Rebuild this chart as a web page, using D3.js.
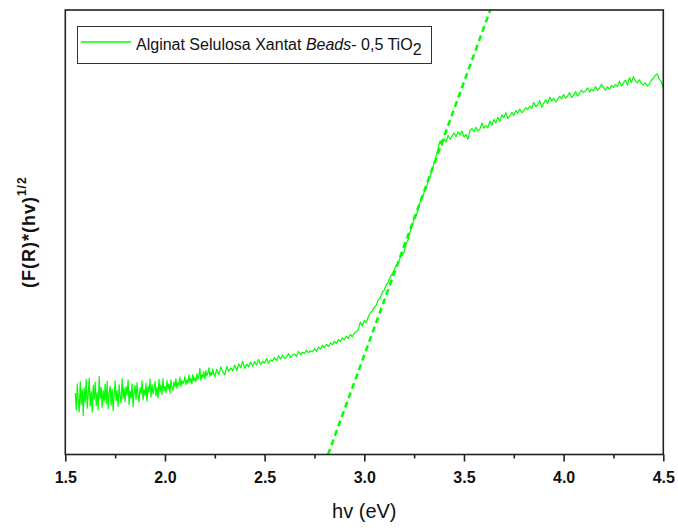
<!DOCTYPE html>
<html>
<head>
<meta charset="utf-8">
<script src="https://cdn.jsdelivr.net/npm/d3@7"></script>
<style>
  html, body { margin: 0; padding: 0; background: #fff; }
  svg { display: block; font-family: "Liberation Sans", Arial, sans-serif; }
</style>
</head>
<body>
<svg id="chart" width="678" height="528"></svg>
<script>
// ---- data ----
// low-energy part, sampled every 0.005 eV
const hvLowStart = 1.55;
const hvLowStep = 0.005;
const kmLow = [
  13.8, 10.0, 15.9, 12.2, 9.6, 16.4, 11.3, 14.5, 8.8, 15.0,
  11.8, 16.9, 10.4, 13.6, 17.2, 10.9, 14.1, 9.5, 15.6, 12.5,
  16.3, 11.0, 13.9, 10.1, 17.6, 12.7, 15.1, 10.6, 14.4, 12.0,
  15.8, 11.4, 16.5, 10.3, 13.8, 15.4, 11.1, 14.7, 9.9, 13.2,
  16.6, 12.1, 14.3, 10.8, 15.7, 13.0, 11.6, 17.1, 12.6, 14.9,
  11.9, 15.3, 13.4, 16.8, 11.2, 14.2, 12.8, 15.9, 10.7, 14.0,
  15.5, 12.4, 16.2, 13.1, 11.8, 15.0, 13.7, 16.6, 12.3, 14.6,
  13.3, 16.0, 12.0, 15.2, 14.1, 17.0, 12.9, 15.7, 13.6, 14.8,
  16.4, 13.2, 15.1, 12.7, 16.9, 14.0, 15.6, 13.5, 17.1, 14.3,
  15.3, 13.9, 16.6, 14.7, 15.9, 13.8, 16.8, 15.0, 14.4, 16.3,
  15.2, 17.0, 14.9, 16.1, 15.6, 17.4, 15.3, 16.7, 15.9, 16.4,
  17.5, 15.7, 16.8, 16.0, 17.9, 16.2, 17.1, 15.9, 18.0, 16.6,
  17.2, 16.4, 18.2, 16.9, 17.6, 19.4, 16.8, 17.9, 17.3, 18.6,
  17.0, 18.8, 17.7, 18.3, 19.5, 17.6, 18.5, 17.9, 19.2, 18.1
];
// rest of the spectrum, sampled every 0.01 eV
const hvHighStart = 2.25;
const hvHighStep = 0.01;
const kmHigh = [
  17.5, 19.2, 18.0, 19.7, 18.6, 17.9, 19.8, 18.7, 19.5, 18.8,
  20.1, 18.9, 20.4, 19.5, 21.0, 19.3, 20.3, 19.8, 20.8, 19.9,
  20.9, 20.1, 21.4, 20.2, 21.0, 20.6, 21.6, 20.5, 21.3, 21.0,
  21.8, 21.1, 22.2, 21.5, 22.4, 21.6, 22.0, 22.7, 21.8, 22.4,
  22.6, 22.1, 23.2, 22.5, 23.0, 22.7, 23.5, 22.9, 23.3, 23.1,
  23.8, 23.2, 24.2, 23.7, 24.6, 24.0, 24.8, 24.3, 25.1, 24.7,
  25.5, 25.0, 25.9, 25.4, 26.2, 25.8, 26.6, 26.1, 27.0, 26.5,
  27.3, 27.6, 28.2, 29.8, 28.9, 30.2, 29.6, 31.0, 31.8, 32.3,
  33.1, 33.6, 34.8, 35.2, 36.5, 37.0, 38.2, 38.7, 40.0, 40.6,
  41.5, 42.6, 43.0, 44.3, 44.8, 45.6, 47.4, 48.3, 50.2, 51.5,
  52.9, 53.6, 55.2, 56.8, 57.6, 59.0, 59.8, 61.5, 62.4, 64.0,
  65.5, 67.2, 68.8, 70.6, 69.5, 71.0, 70.3, 71.8, 70.9, 71.6,
  72.3, 71.5, 72.6, 71.9, 72.8, 71.4, 72.0, 70.9, 72.9, 73.3,
  72.6, 73.6, 72.8, 73.2, 74.6, 73.4, 74.0, 73.5, 75.0, 74.1,
  75.4, 74.6, 75.9, 74.9, 76.4, 75.8, 76.9, 75.6, 76.2, 77.0,
  76.3, 77.4, 76.8, 77.7, 76.9, 77.3, 78.0, 77.6, 78.4, 77.8,
  79.2, 78.3, 78.7, 79.6, 78.1, 79.0, 79.8, 78.9, 80.4, 79.5,
  80.1, 79.3, 79.9, 80.6, 80.0, 81.0, 80.2, 80.7, 81.4, 80.3,
  80.8, 81.6, 80.6, 81.3, 82.0, 81.4, 81.8, 82.5, 81.6, 82.2,
  81.8, 82.8, 81.9, 82.4, 83.3, 82.5, 82.0, 82.7, 82.2, 83.0,
  82.6, 83.2, 82.8, 84.0, 82.9, 83.6, 84.2, 83.1, 84.8, 83.7,
  85.0, 84.1, 83.6, 84.3, 83.5, 83.1, 83.6, 82.9, 83.4, 84.2,
  84.6, 85.3, 85.6, 84.4, 83.9, 82.5
];
const fitHv = [2.818, 3.632];
const fitY = [0, 100];
const majorTicks = [1.5, 2.0, 2.5, 3.0, 3.5, 4.0, 4.5];
const minorTicks = [1.75, 2.25, 2.75, 3.25, 3.75, 4.25];
const seriesName = "Alginat Selulosa Xantat ";

// ---- layout ----
const svg = d3.select("#chart");
const L = 65.3, R = 663.3, T = 10, B = 454.5;
const x = d3.scaleLinear().domain([1.5, 4.5]).range([L, R]);
const y = d3.scaleLinear().domain([0, 100]).range([B, T]);
const green = "#00ff00";

svg.append("defs").append("clipPath").attr("id", "clip")
  .append("rect").attr("x", L).attr("y", T).attr("width", R - L).attr("height", B - T);

const pts = kmLow.map((v, i) => [hvLowStart + i * hvLowStep, v])
  .concat(kmHigh.map((v, i) => [hvHighStart + i * hvHighStep, v]));

// dashed fit line
svg.append("path")
  .datum(fitHv.map((h, i) => [h, fitY[i]]))
  .attr("clip-path", "url(#clip)")
  .attr("fill", "none")
  .attr("stroke", green)
  .attr("stroke-width", 2.5)
  .attr("stroke-dasharray", "6,4")
  .attr("d", d3.line().x(d => x(d[0])).y(d => y(d[1])));

// data curve
svg.append("path")
  .datum(pts)
  .attr("clip-path", "url(#clip)")
  .attr("fill", "none")
  .attr("stroke", green)
  .attr("stroke-width", 1.2)
  .attr("stroke-linejoin", "round")
  .attr("d", d3.line().x(d => x(d[0])).y(d => y(d[1])));

// frame
svg.append("rect")
  .attr("x", L).attr("y", T).attr("width", R - L).attr("height", B - T)
  .attr("fill", "none").attr("stroke", "#222").attr("stroke-width", 1.6);

// x axis major
const gx = svg.append("g").attr("transform", `translate(0,${B})`)
  .call(d3.axisBottom(x).tickValues(majorTicks).tickFormat(d3.format(".1f"))
    .tickSize(7).tickSizeOuter(0).tickPadding(10));
gx.select(".domain").remove();
gx.selectAll(".tick line").attr("stroke", "#222").attr("stroke-width", 1.6);
gx.selectAll(".tick text").attr("font-size", 16).attr("font-weight", "bold")
  .attr("fill", "#111").attr("font-family", "Liberation Sans, Arial, sans-serif");

// x axis minor
const gxm = svg.append("g").attr("transform", `translate(0,${B})`)
  .call(d3.axisBottom(x).tickValues(minorTicks).tickFormat("").tickSize(4).tickSizeOuter(0));
gxm.select(".domain").remove();
gxm.selectAll(".tick line").attr("stroke", "#222").attr("stroke-width", 1.6);

// x title
svg.append("text")
  .attr("x", (L + R) / 2).attr("y", 518)
  .attr("text-anchor", "middle")
  .attr("font-size", 20).attr("fill", "#111")
  .text("hv (eV)");

// y title
const yt = svg.append("text")
  .attr("transform", `translate(35,${(T + B) / 2}) rotate(-90)`)
  .attr("text-anchor", "middle")
  .attr("font-size", 18).attr("font-weight", "bold").attr("fill", "#111")
  .attr("letter-spacing", 1);
yt.append("tspan").text("(F(R)*(hv)");
yt.append("tspan").attr("font-size", 12).attr("dy", -9).text("1/2");

// legend
const lg = svg.append("g");
lg.append("rect").attr("x", 77.5).attr("y", 26.5).attr("width", 354).attr("height", 37)
  .attr("fill", "#fff").attr("stroke", "#333").attr("stroke-width", 1);
lg.append("line").attr("x1", 81).attr("x2", 131).attr("y1", 42).attr("y2", 42)
  .attr("stroke", green).attr("stroke-width", 1.5);
const lt = lg.append("text").attr("x", 136).attr("y", 50)
  .attr("font-size", 16).attr("fill", "#111");
lt.append("tspan").text(seriesName);
lt.append("tspan").attr("font-style", "italic").text("Beads");
lt.append("tspan").text("- 0,5 TiO");
lt.append("tspan").attr("dy", 5).text("2");
</script>
</body>
</html>
